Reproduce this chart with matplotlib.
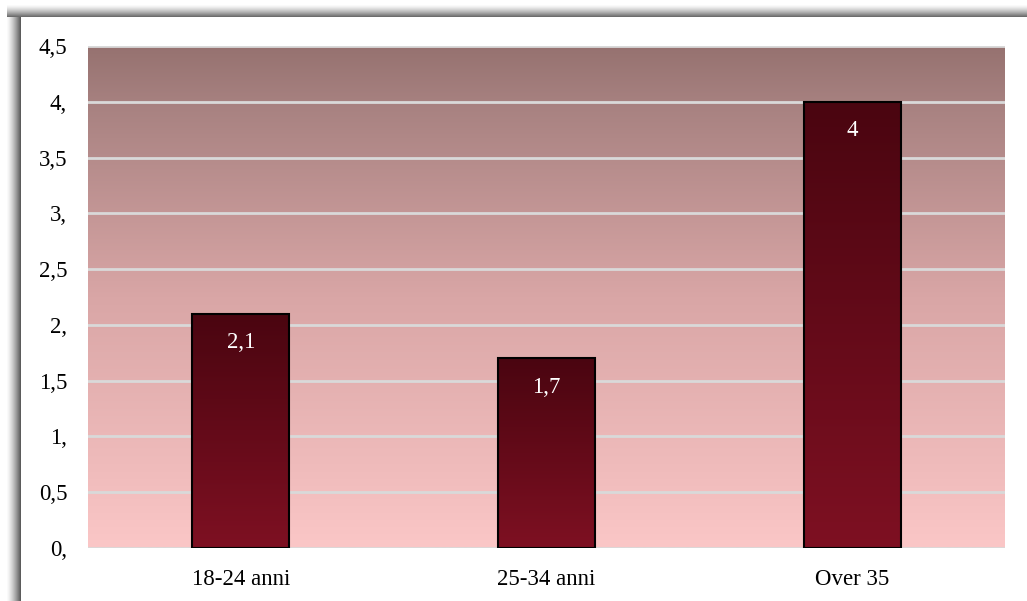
import numpy as np
import matplotlib
matplotlib.use("Agg")
import matplotlib.pyplot as plt
from matplotlib.colors import LinearSegmentedColormap
from matplotlib.ticker import FuncFormatter, MultipleLocator

categories = ["18-24 anni", "25-34 anni", "Over 35"]
values = [2.1, 1.7, 4.0]
value_labels = ["2,1", "1,7", "4"]

plt.rcParams['font.family'] = ['Liberation Serif', 'DejaVu Serif']

W, H = 1027, 601
fig = plt.figure(figsize=(W / 100, H / 100), dpi=100)
fig.patch.set_facecolor("white")

# Shadow frame (decoration)
bg = fig.add_axes([0, 0, 1, 1], zorder=-10)
img = np.ones((H, W, 3))
def shade(t):
    return 1.0 - 0.64 * t ** 1.4
for y in range(4, 18):
    t = (y - 4) / 13
    img[y, 7:, :] = shade(t)
for xx in range(6, 21):
    t = (xx - 6) / 14
    img[17:, xx, :] = shade(t)
img[17:, 21:, :] = 1.0
bg.imshow(img, extent=[0, W, H, 0], aspect="auto", interpolation="bilinear")
bg.set_xlim(0, W)
bg.set_ylim(H, 0)
bg.axis("off")

ax = fig.add_axes([88 / W, 1 - 548 / H, (1005 - 88) / W, (548 - 46) / H])
x = np.arange(len(categories))
xlo, xhi = -0.5, len(categories) - 0.5

bg_cmap = LinearSegmentedColormap.from_list(
    "bgc",
    [(0.0, "#967270"), (0.12, "#a88281"), (0.5, "#d9a6a6"), (0.85, "#f0bcbc"), (1.0, "#fbc7c7")],
)
grad = np.linspace(0, 1, 256).reshape(-1, 1)
ax.imshow(grad, cmap=bg_cmap, extent=[xlo, xhi, 0, 4.5],
          aspect="auto", zorder=0, origin="upper")

ax.yaxis.set_major_locator(MultipleLocator(0.5))
for v in np.arange(0, 4.51, 0.5):
    ax.axhline(v, color="#d9d9d9", lw=2, zorder=1)

bar_cmap = LinearSegmentedColormap.from_list("barc", ["#4a0510", "#7e1022"])
bars = ax.bar(x, values, width=0.317, facecolor="none", edgecolor="black",
              linewidth=1.5, zorder=4)
for b, lab in zip(bars, value_labels):
    x0, w, h = b.get_x(), b.get_width(), b.get_height()
    im = ax.imshow(grad, cmap=bar_cmap, extent=[x0, x0 + w, 0, h],
                   aspect="auto", zorder=3, origin="upper")
    im.set_clip_path(b)
    ax.annotate(lab, (x0 + w / 2, h), xytext=(0, -29), textcoords="offset pixels",
                ha="center", va="center", color="white", fontsize=16.5, zorder=5)
ax.set_xlim(xlo, xhi)
ax.set_ylim(0, 4.5)

def fmt(v, pos):
    if abs(v - round(v)) < 1e-9:
        return f"{int(round(v))},"
    return f"{v:.1f}".replace(".", ",")
ax.yaxis.set_major_formatter(FuncFormatter(fmt))
ax.set_xticks(x)
ax.set_xticklabels(categories)
ax.tick_params(axis="both", length=0, labelsize=16.5, colors="black")
ax.tick_params(axis="y", pad=15)
ax.tick_params(axis="x", pad=15)
for s in ax.spines.values():
    s.set_visible(False)

fig.savefig("out.png", dpi=100, facecolor="white")
